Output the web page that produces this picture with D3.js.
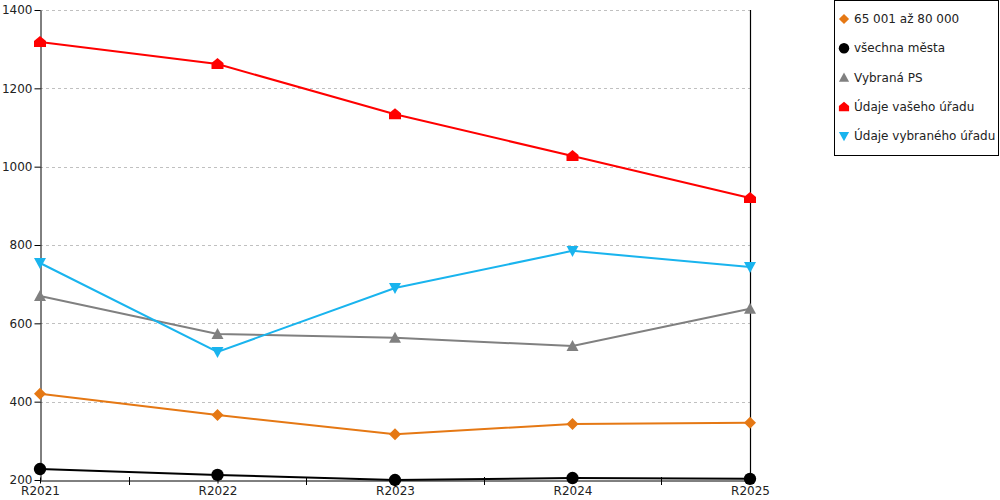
<!DOCTYPE html>
<html>
<head>
<meta charset="utf-8">
<script src="https://cdn.jsdelivr.net/npm/d3@7"></script>
<style>
  body { margin: 0; background: #fff; }
  text { font-family: "DejaVu Sans", Verdana, sans-serif; font-size: 12px; fill: #222; }
</style>
</head>
<body>
<div id="chart"></div>
<script>
// data
var categories = ['R2021', 'R2022', 'R2023', 'R2024', 'R2025'];
var yTicks = [200, 400, 600, 800, 1000, 1200, 1400];
var seriesNames = ['65 001 až 80 000', 'všechna města', 'Vybraná PS', 'Údaje vašeho úřadu', 'Údaje vybraného úřadu'];
var orangeValues = [420, 366, 317, 343, 346];
var blackValues = [228, 213, 200, 205, 203];
var grayValues = [670, 573, 563, 542, 637];
var redValues = [1318, 1262, 1134, 1027, 920];
var blueValues = [754, 527, 690, 785, 744];

var allSeries = [
  { name: seriesNames[0], values: orangeValues, color: '#e57814', marker: 'diamond' },
  { name: seriesNames[1], values: blackValues, color: '#000000', marker: 'circle' },
  { name: seriesNames[2], values: grayValues, color: '#808080', marker: 'triangle' },
  { name: seriesNames[3], values: redValues, color: '#ff0000', marker: 'house' },
  { name: seriesNames[4], values: blueValues, color: '#19b4ee', marker: 'triangleDown' }
];

var width = 1000, height = 500;
var plotLeft = 40, plotRight = 750, plotTop = 10, plotBottom = 480;

var svg = d3.select('#chart').append('svg')
  .attr('width', width)
  .attr('height', height);

var x = d3.scalePoint().domain(categories).range([plotLeft, plotRight]);
var y = d3.scaleLinear().domain([200, 1400]).range([plotBottom, plotTop]);

// markers as paths centred on 0,0
function markerPath(type) {
  if (type == 'diamond') return 'M0,-6L6,0L0,6L-6,0Z';
  if (type == 'circle') return d3.symbol().type(d3.symbolCircle).size(120)();
  if (type == 'triangle') return 'M0,-6L6,5L-6,5Z';
  if (type == 'triangleDown') return 'M-6,-5L6,-5L0,6Z';
  if (type == 'house') return 'M0,-6L6,-1L6,5L-6,5L-6,-1Z';
}

// horizontal gridlines
svg.append('g').selectAll('line')
  .data(yTicks.filter(function (d) { return d > 200; }))
  .enter().append('line')
  .attr('x1', plotLeft).attr('x2', plotRight)
  .attr('y1', function (d) { return Math.round(y(d)) + 0.5; })
  .attr('y2', function (d) { return Math.round(y(d)) + 0.5; })
  .style('stroke', '#c0c0c0')
  .style('stroke-width', '1px')
  .style('stroke-dasharray', '3,3');

// y axis
var yAxis = svg.append('g')
  .attr('transform', 'translate(' + (plotLeft + 0.5) + ',0)')
  .call(d3.axisLeft(y).tickValues(yTicks).tickSize(6).tickSizeOuter(0).tickPadding(2).tickFormat(d3.format('d')));
yAxis.select('.domain').style('stroke', '#000');
yAxis.selectAll('.tick line').style('stroke', '#000');
yAxis.selectAll('text').style('font-size', '12px').style('fill', '#222')
  .style('font-family', '"DejaVu Sans", Verdana, sans-serif');

// right border
svg.append('line')
  .attr('x1', plotRight + 0.5).attr('x2', plotRight + 0.5)
  .attr('y1', plotTop).attr('y2', plotBottom)
  .style('stroke', '#000').style('stroke-width', '1.2px');

// x axis
var xAxis = svg.append('g')
  .attr('transform', 'translate(0,' + (plotBottom + 0.5) + ')')
  .call(d3.axisBottom(x).tickSize(3).tickSizeOuter(0).tickPadding(3));
xAxis.select('.domain').style('stroke', '#000');
xAxis.selectAll('.tick line').style('stroke', '#000').attr('y1', -3);
xAxis.selectAll('text').style('font-size', '12px').style('fill', '#222')
  .style('font-family', '"DejaVu Sans", Verdana, sans-serif');

// minor ticks between categories
var step = x.step();
svg.append('g').selectAll('line')
  .data(categories.slice(0, -1))
  .enter().append('line')
  .attr('x1', function (d) { return Math.round(x(d) + step / 2) + 0.5; })
  .attr('x2', function (d) { return Math.round(x(d) + step / 2) + 0.5; })
  .attr('y1', plotBottom - 3).attr('y2', plotBottom + 5)
  .style('stroke', '#000');

// lines
var line = d3.line()
  .x(function (d, i) { return x(categories[i]); })
  .y(function (d) { return y(d); });

allSeries.forEach(function (s) {
  svg.append('path')
    .datum(s.values)
    .attr('d', line)
    .attr('fill', 'none')
    .style('stroke', s.color)
    .style('stroke-width', '2px');
});

allSeries.forEach(function (s) {
  svg.append('g').selectAll('path')
    .data(s.values)
    .enter().append('path')
    .attr('d', markerPath(s.marker))
    .attr('transform', function (d, i) { return 'translate(' + x(categories[i]) + ',' + y(d) + ')'; })
    .attr('fill', s.color);
});

// legend
var legend = svg.append('g');
legend.append('rect')
  .attr('x', 834.5).attr('y', 0.5)
  .attr('width', 164).attr('height', 155)
  .attr('fill', '#fff')
  .style('stroke', '#000')
  .style('stroke-width', '1px');

allSeries.forEach(function (s, i) {
  var cy = 19 + i * 29.3;
  legend.append('path')
    .attr('d', markerPath(s.marker))
    .attr('transform', 'translate(844,' + cy + ') scale(0.85)')
    .attr('fill', s.color);
  legend.append('text')
    .attr('x', 854)
    .attr('y', cy + 4)
    .text(s.name);
});
</script>
</body>
</html>
